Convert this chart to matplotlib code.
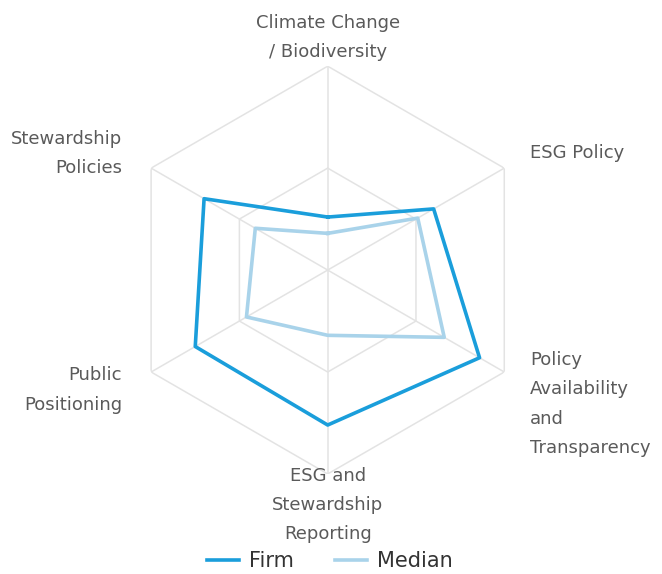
import numpy as np
import matplotlib
matplotlib.use("Agg")
import matplotlib.pyplot as plt

categories = ["Climate Change\n/ Biodiversity", "ESG Policy",
              "Policy\nAvailability\nand\nTransparency",
              "ESG and\nStewardship\nReporting", "Public\nPositioning",
              "Stewardship\nPolicies"]
firm = [26, 60, 86, 76, 75, 70]
median = [18, 51, 66, 32, 46, 41]
grid_levels = [50, 100]

plt.rcParams['font.family'] = ['DejaVu Sans']

fig = plt.figure(figsize=(6.62, 5.74), dpi=100)
ax = fig.add_axes([0.187, 0.174, 0.616, 0.711], projection='polar')
ax.set_theta_zero_location('N')
ax.set_theta_direction(-1)
ax.set_ylim(0, 100)
ax.grid(False)
ax.spines['polar'].set_visible(False)
ax.set_xticks([])
ax.set_yticks([])
ax.patch.set_alpha(0)

n = len(categories)
angles = np.linspace(0, 2 * np.pi, n, endpoint=False)
closed = np.append(angles, angles[0])

grid_col = '#e3e3e3'
for lvl in grid_levels:
    ax.plot(closed, [lvl] * (n + 1), color=grid_col, lw=1.1, zorder=1)
for a in angles:
    ax.plot([a, a], [0, grid_levels[-1]], color=grid_col, lw=1.1, zorder=1)

ax.plot(closed, median + median[:1], color='#a9d3ea', lw=2.6, zorder=3,
        label='Median')
ax.plot(closed, firm + firm[:1], color='#1a9edb', lw=2.6, zorder=4,
        label='Firm')

# label offsets in pixels (right, up) from each outer vertex
offsets = [(0, 5), (25.6, 15), (25.6, -32), (0, 7), (-29, -18), (-29, 14.5)]
aligns = [('center', 'bottom'), ('left', 'center'), ('left', 'center'),
          ('center', 'top'), ('right', 'center'), ('right', 'center')]
for a, lab, (dx, dy), (ha, va) in zip(angles, categories, offsets, aligns):
    ax.annotate(lab, xy=(a, 100), xytext=(dx * 0.72, dy * 0.72),
                textcoords='offset points', ha=ha, va=va, fontsize=13,
                color='#5a5a5a', linespacing=1.8, multialignment=ha)

handles, labels = ax.get_legend_handles_labels()
fig.legend(handles[::-1], labels[::-1], loc='lower center', ncol=2,
           bbox_to_anchor=(0.498, -0.028), frameon=False, fontsize=15,
           handlelength=1.55, handletextpad=0.45, columnspacing=2.0,
           labelcolor='#333333')

fig.savefig('out.png', dpi=100)
